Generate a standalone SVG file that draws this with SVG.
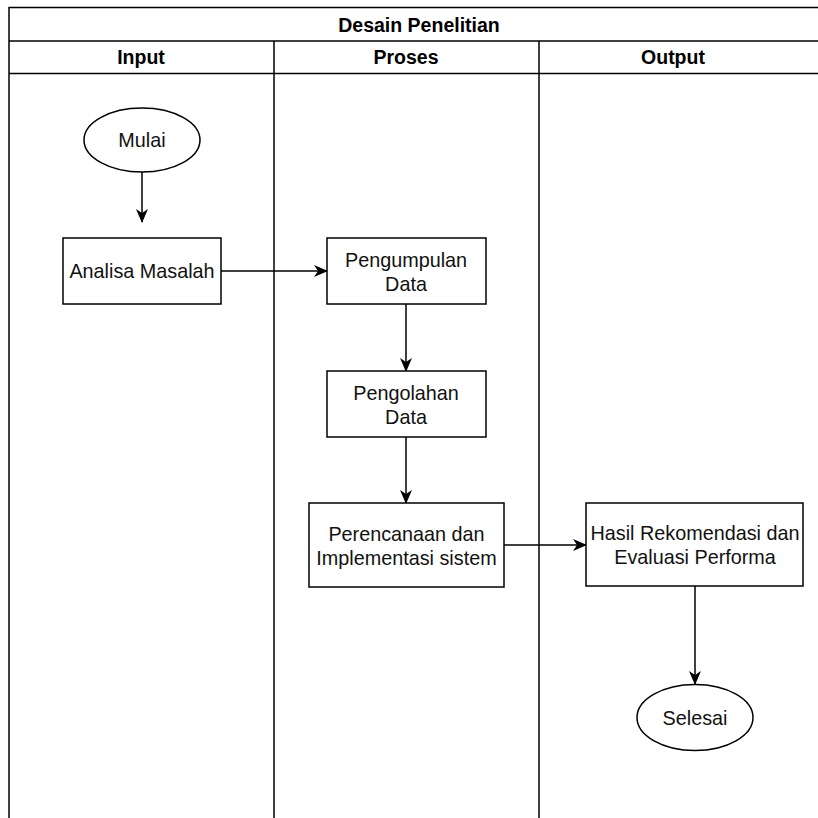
<svg xmlns="http://www.w3.org/2000/svg" width="818" height="818" viewBox="0 0 818 818">
<style>
.ln{stroke:#000;stroke-width:1.5;fill:none}
.nd{fill:#fff;stroke:#000;stroke-width:1.5}
.h{font-family:"Liberation Sans",Arial,sans-serif;font-weight:bold;font-size:19.5px;fill:#000;text-anchor:middle}
.t{font-family:"Liberation Sans",Arial,sans-serif;font-size:19.8px;fill:#111;text-anchor:middle}
.c{stroke:#000;stroke-width:1.5;fill:none}
</style>
<defs>
<marker id="ah" viewBox="0 0 14 12" refX="13" refY="6" markerWidth="14" markerHeight="12" markerUnits="userSpaceOnUse" orient="auto">
<path d="M0,0 L14,6 L0,12 L4,6 Z" fill="#000"/>
</marker>
</defs>
<rect width="818" height="818" fill="#fff"/>
<g id="pool">
<path class="ln" d="M9,818 V7.5 H830 M9,41 H830 M9,73.5 H830 M274,41 V818 M539,41 V818"/>
<text class="h" x="419" y="31.5">Desain Penelitian</text>
<text class="h" x="141" y="63.5">Input</text>
<text class="h" x="406" y="63.5">Proses</text>
<text class="h" x="673" y="63.5">Output</text>
</g>
<g id="connectors">
<path class="c" d="M142,172 V222" marker-end="url(#ah)"/>
<path class="c" d="M221,271 H327" marker-end="url(#ah)"/>
<path class="c" d="M406,304 V371" marker-end="url(#ah)"/>
<path class="c" d="M406,437 V503" marker-end="url(#ah)"/>
<path class="c" d="M504,545 H586" marker-end="url(#ah)"/>
<path class="c" d="M695,586 V684" marker-end="url(#ah)"/>
</g>
<g id="mulai">
<ellipse class="nd" cx="142" cy="140" rx="58" ry="32"/>
<text class="t" x="142" y="147">Mulai</text>
</g>
<g id="analisa">
<rect class="nd" x="63" y="238" width="158" height="66"/>
<text class="t" x="142" y="278">Analisa Masalah</text>
</g>
<g id="pengumpulan">
<rect class="nd" x="327" y="238" width="159" height="66"/>
<text class="t" x="406" y="266.5">Pengumpulan</text>
<text class="t" x="406" y="290.5">Data</text>
</g>
<g id="pengolahan">
<rect class="nd" x="327" y="371" width="159" height="66"/>
<text class="t" x="406" y="399.5">Pengolahan</text>
<text class="t" x="406" y="423.5">Data</text>
</g>
<g id="perencanaan">
<rect class="nd" x="309" y="503" width="195" height="84"/>
<text class="t" x="406.5" y="540.5">Perencanaan dan</text>
<text class="t" x="406.5" y="564.5">Implementasi sistem</text>
</g>
<g id="hasil">
<rect class="nd" x="586" y="503" width="217" height="83"/>
<text class="t" x="695" y="540">Hasil Rekomendasi dan</text>
<text class="t" x="695" y="564">Evaluasi Performa</text>
</g>
<g id="selesai">
<ellipse class="nd" cx="695" cy="717.5" rx="58" ry="33"/>
<text class="t" x="695" y="724.5">Selesai</text>
</g>
</svg>
